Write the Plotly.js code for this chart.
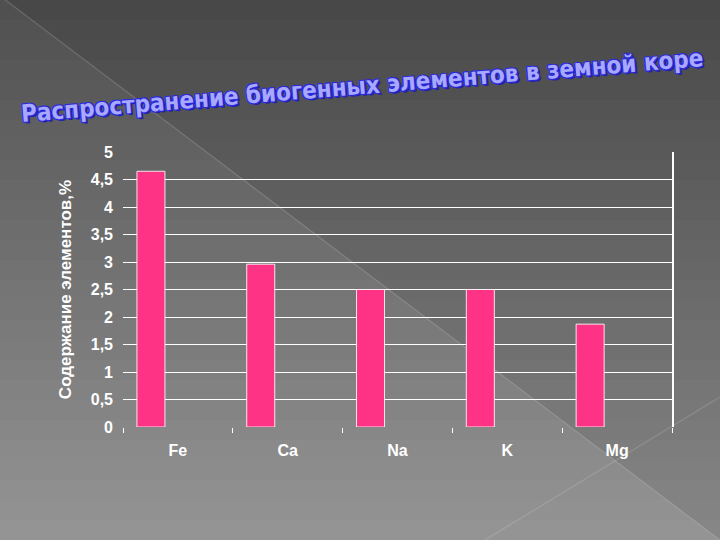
<!DOCTYPE html>
<html>
<head>
<meta charset="utf-8">
<script src="https://cdn.plot.ly/plotly-3.0.1.min.js"></script>
<style>html,body{margin:0;padding:0;background:#666;}#chart{width:720px;height:540px;}</style>
</head>
<body>
<div id="chart"></div>
<script>
// ---- data ----
const categories = ["Fe", "Ca", "Na", "K", "Mg"];
const contents = [4.65, 2.96, 2.5, 2.5, 1.87];
const yTickVals = [0, 0.5, 1, 1.5, 2, 2.5, 3, 3.5, 4, 4.5, 5];
const yTickText = ["0", "0,5", "1", "1,5", "2", "2,5", "3", "3,5", "4", "4,5", "5"];
const gridVals = [0.5, 1, 1.5, 2, 2.5, 3, 3.5, 4, 4.5];
const titleText = "Распространение биогенных элементов в земной коре";
const yTitle = "Содержание элементов,%";

// ---- layout geometry ----
const W = 720, H = 540;
const M = {l: 123, r: 48, t: 152, b: 113};
const pw = W - M.l - M.r, ph = H - M.t - M.b;
const px = x => (x - M.l) / pw;
const py = y => (H - M.b - y) / ph;

// background decoration (gradient bands + diagonal facets)
const shapes = [];
const bands = 27;
for (let i = 0; i < bands; i++) {
  const t = i / (bands - 1);
  const c = Math.round(80 + t * (148 - 80));
  shapes.push({type: "rect", xref: "paper", yref: "paper", layer: "below",
    x0: px(0), x1: px(W), y0: py(i * H / bands), y1: py((i + 1) * H / bands + 1),
    fillcolor: `rgb(${c},${c},${c})`, line: {width: 0}});
}
shapes.push({type: "path", xref: "paper", yref: "paper", layer: "below",
  path: `M ${px(0)} ${py(-5)} L ${px(W)} ${py(-5)} L ${px(W)} ${py(540)} Z`,
  fillcolor: "rgba(0,0,0,0.09)", line: {width: 0}});
shapes.push({type: "line", xref: "paper", yref: "paper", layer: "below",
  x0: px(0), y0: py(-4), x1: px(W), y1: py(540),
  line: {color: "rgba(255,255,255,0.14)", width: 1.2}});
shapes.push({type: "line", xref: "paper", yref: "paper", layer: "below",
  x0: px(485), y0: py(540), x1: px(W), y1: py(397),
  line: {color: "rgba(255,255,255,0.14)", width: 1.2}});

const data = [{
  type: "bar",
  x: categories,
  y: contents,
  width: 0.255,
  offset: -0.373,
  marker: {color: "#ff3385", line: {color: "rgba(255,255,255,0.85)", width: 1}},
  hoverinfo: "x+y"
}, {
  type: "scatter", x: categories, y: contents, yaxis: "y2",
  mode: "markers", marker: {opacity: 0}, hoverinfo: "skip", showlegend: false
}];

const axFont = {family: "Liberation Sans, Arial, sans-serif", size: 16, color: "#ffffff", weight: "bold"};

const layout = {
  width: W, height: H,
  margin: M,
  paper_bgcolor: "#5a5a5a",
  plot_bgcolor: "rgba(0,0,0,0)",
  showlegend: false,
  separators: ", ",
  shapes: shapes,
  xaxis: {
    type: "category",
    range: [-0.5, 4.5],
    tickson: "boundaries",
    ticks: "outside", ticklen: 5, tickcolor: "#ffffff", tickwidth: 1,
    showgrid: false, zeroline: false, showline: false,
    tickfont: {family: "Liberation Sans, Arial, sans-serif", size: 16, color: "#ffffff", weight: "bold"},
    ticklabelstandoff: 12
  },
  yaxis: {
    range: [0, 5],
    tickmode: "array", tickvals: yTickVals, ticktext: yTickText,
    showgrid: false, zeroline: false, showline: false,
    ticks: "", tickfont: axFont, ticklabelstandoff: 9,
    title: {text: yTitle, font: {family: "Liberation Sans, Arial, sans-serif", size: 17, color: "#ffffff", weight: "bold"}, standoff: 14}
  },
  yaxis2: {
    overlaying: "y", side: "right", range: [0, 5],
    tickmode: "array", tickvals: gridVals, showticklabels: false, ticks: "",
    showgrid: true, gridcolor: "#ffffff", gridwidth: 1,
    showline: true, linecolor: "#ffffff", linewidth: 1.5, zeroline: false
  },
  annotations: [{
    xref: "paper", yref: "paper", x: px(362), y: py(86),
    xanchor: "center", yanchor: "middle", showarrow: false,
    textangle: -4.7,
    text: titleText,
    font: {family: "DejaVu Sans Condensed, Liberation Sans, sans-serif", size: 24, color: "#a8a8ff", weight: "bold",
      shadow: "1px 1px 0 #2a2ad8, -1px -1px 0 #2a2ad8, 1px -1px 0 #2a2ad8, -1px 1px 0 #2a2ad8, 2px 2px 0 #2020b0"}
  }]
};

Plotly.newPlot("chart", data, layout, {displayModeBar: false, staticPlot: true});
</script>
</body>
</html>
